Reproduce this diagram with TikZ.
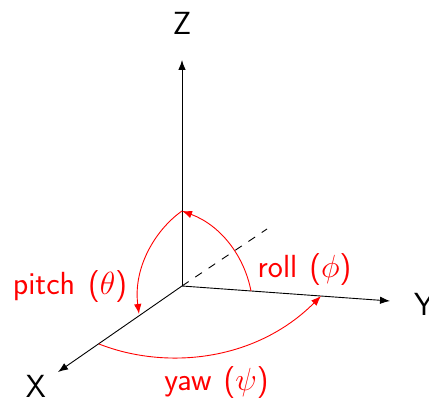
\RequirePackage{fix-cm}
\documentclass[tikz,border=0pt]{standalone}
\usetikzlibrary{arrows.meta}
\tikzset{
  axis/.style={black,line width=0.9pt,-{Latex[length=10pt,width=7.5pt]}},
  arc/.style={red,line width=0.9pt},
  arctip/.style={arc,-{Latex[length=10pt,width=7.5pt]}},
  lab/.style={font=\sffamily\fontsize{32}{36}\selectfont,inner sep=0pt},
  rlab/.style={lab,text=red}
}
\begin{document}
\begin{tikzpicture}[x=1pt,y=-1pt]
\useasboundingbox (0,0) rectangle (429,401);
\coordinate (O) at (182,286);
\coordinate (zt) at (182,60);
\coordinate (xt) at (58,372);
\coordinate (yt) at (390,301);
\coordinate (dt) at (267,229);
\coordinate (zp) at (182,211);
\coordinate (xp) at (139,314);
\coordinate (xy) at (99,344);
\coordinate (yr) at (251,291);
\coordinate (yy) at (321,296);
\node[lab] (Z) at (182,23) {Z};
\node[lab] (X) at (36,386) {X};
\node[lab,anchor=west] (Y) at (414,304) {Y};
\node[rlab] (pitch) at (70,287) {pitch\hspace{3pt} ($\theta$)};
\node[rlab] (roll) at (304.5,270) {roll\hspace{2pt} ($\phi$)};
\node[rlab] (yaw) at (216.5,383) {yaw\hspace{2pt} ($\psi$)};
\draw[axis] (O) -- (zt);
\draw[axis] (O) -- (xt);
\draw[axis] (O) -- (yt);
\draw[black,line width=0.9pt,dash pattern=on 8pt off 8pt] (O) -- (dt);
\draw[arctip] (zp) .. controls (155,230) and (133,268) .. (xp);
\draw[arctip] (yr) .. controls (244,255) and (220,225) .. (zp);
\draw[arctip] (xy) .. controls (165,370) and (255,362) .. (yy);
\end{tikzpicture}
\end{document}
